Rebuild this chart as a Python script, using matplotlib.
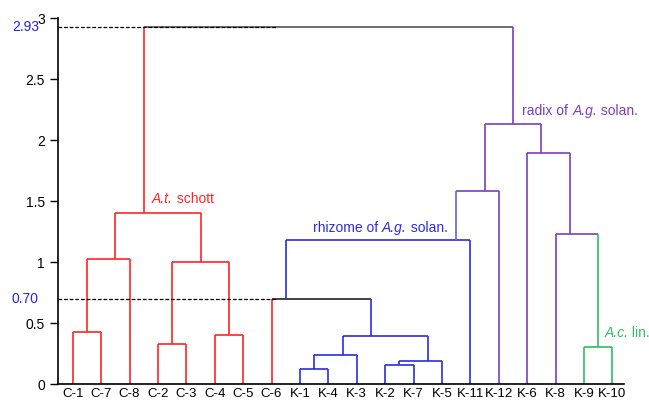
import matplotlib
matplotlib.use("Agg")
import matplotlib.pyplot as plt

plt.rcParams["font.family"] = ["Liberation Sans", "DejaVu Sans"]

# leaves, left to right
leaf_labels = ["C-1", "C-7", "C-8", "C-2", "C-3", "C-4", "C-5", "C-6",
               "K-1", "K-4", "K-3", "K-2", "K-7", "K-5", "K-11", "K-12",
               "K-6", "K-8", "K-9", "K-10"]

# merges: node ids start after the leaves (20, 21, ...)
merge_left = [0, 20, 3, 5, 22, 21, 8, 26, 11, 28, 27, 7, 31, 32, 18, 17, 16, 33, 25]
merge_right = [1, 2, 4, 6, 23, 24, 9, 10, 12, 13, 29, 30, 14, 15, 19, 34, 35, 36, 37]
merge_height = [0.43, 1.025, 0.33, 0.40, 1.00, 1.40, 0.12, 0.235, 0.158, 0.19,
                0.393, 0.70, 1.18, 1.585, 0.30, 1.227, 1.896, 2.13, 2.93]

cut_values = [2.93, 0.70]

# styles
RED, BLUE, PURPLE, GREEN = "#ff2424", "#2b2be8", "#7b3cc2", "#2fbf5c"
LAV, BLACK, GRAY = "#6464d2", "#222222", "#555555"
leaf_stem_colors = [RED] * 8 + [BLUE] * 7 + [PURPLE] * 3 + [GREEN] * 2
merge_bar_colors = [RED] * 6 + [BLUE] * 5 + [BLACK, BLUE, PURPLE, GREEN,
                                              PURPLE, PURPLE, PURPLE, GRAY]
merge_stem_colors = [RED] * 6 + [BLUE] * 5 + [BLUE, LAV, PURPLE, GREEN,
                                              PURPLE, PURPLE, PURPLE, None]

n = len(leaf_labels)
stem_colors = leaf_stem_colors + merge_stem_colors
height = [0.0] * n + merge_height
last_leaf = list(range(n))
xpos = [float(i) for i in range(n)]
for a, b in zip(merge_left, merge_right):
    # stem sits on the boundary between the two sub-clusters
    xpos.append(last_leaf[a] + 0.5)
    last_leaf.append(last_leaf[b])


def label(ax, x, y, parts, color, size=10):
    # parts: list of (text, italic) drawn one after another
    prev = None
    for s, it in parts:
        style = "italic" if it else "normal"
        if prev is None:
            prev = ax.text(x, y, s, color=color, fontsize=size, fontstyle=style,
                           ha="left", va="center")
        else:
            prev = ax.annotate(s, xy=(1, 0), xycoords=prev, color=color,
                               fontsize=size, fontstyle=style,
                               ha="left", va="bottom")


fig = plt.figure(figsize=(6.49, 4.03), dpi=100)
ax = fig.add_axes([0.0886, 0.0471, 0.8729, 0.9075])

lw = 1.2
for k, (a, b) in enumerate(zip(merge_left, merge_right)):
    node = n + k
    h = height[node]
    ax.plot([xpos[a], xpos[b]], [h, h], color=merge_bar_colors[k], lw=lw,
            solid_capstyle="butt")
    for c in (a, b):
        ax.plot([xpos[c], xpos[c]], [height[c], h], color=stem_colors[c], lw=lw,
                solid_capstyle="butt")

xmin, xmax = -0.535, 19.41
for v in cut_values:
    ax.hlines(v, xmin, 7.2, colors="black", linestyles=(0, (3, 1.5)), lw=0.9,
              zorder=5)
    ax.text(-0.033, v, f"{v:.2f}", transform=ax.get_yaxis_transform(),
            ha="right", va="center", color="#2020ff", fontsize=10)

label(ax, 2.78, 1.52, [("A.t.", True), (" schott", False)], RED)
label(ax, 8.46, 1.28, [("rhizome of ", False), ("A.g.", True), (" solan.", False)], BLUE)
label(ax, 15.83, 2.24, [("radix of ", False), ("A.g.", True), (" solan.", False)], PURPLE)
label(ax, 18.72, 0.415, [("A.c.", True), (" lin.", False)], GREEN)

ax.set_xlim(xmin, xmax)
ax.set_ylim(0, 3)
ax.set_xticks(range(n))
ax.set_xticklabels(leaf_labels, fontsize=9.5,
                   family=["Liberation Sans Narrow", "Liberation Sans"])
ax.tick_params(axis="x", length=0, pad=3)
ax.set_yticks([0, 0.5, 1, 1.5, 2, 2.5, 3])
ax.set_yticklabels(["0", "0.5", "1", "1.5", "2", "2.5", "3"], fontsize=10)
ax.tick_params(axis="y", length=6, width=1, pad=3)
for side in ("top", "right"):
    ax.spines[side].set_visible(False)
for side in ("left", "bottom"):
    ax.spines[side].set_linewidth(1.2)

fig.savefig("out.png", dpi=100)
